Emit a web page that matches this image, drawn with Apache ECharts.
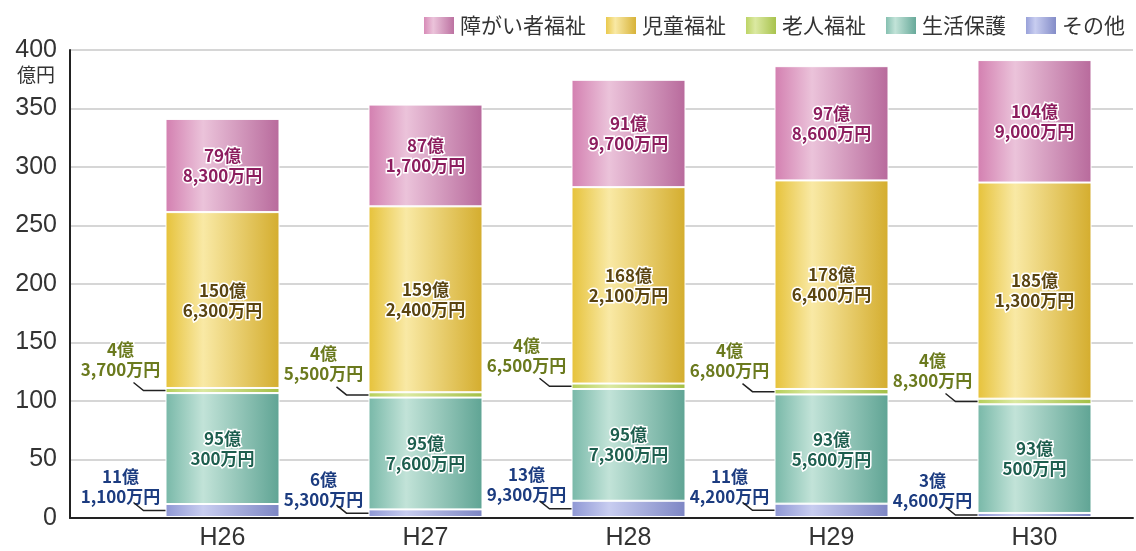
<!DOCTYPE html>
<html>
<head>
<meta charset="utf-8">
<script src="https://cdn.jsdelivr.net/npm/echarts@6/dist/echarts.min.js"></script>
<style>
  html, body { margin: 0; padding: 0; background: #fff; }
  #chart { width: 1136px; height: 551px; }
</style>
</head>
<body>
<div id="chart"></div>
<script>
// 単位：億円
const years = ["H26", "H27", "H28", "H29", "H30"];
const shogai = [79.83, 87.17, 91.97, 97.86, 104.90];   // 障がい者福祉
const jido = [150.63, 159.24, 168.21, 178.64, 185.13]; // 児童福祉
const rojin = [4.37, 4.55, 4.65, 4.68, 4.83];          // 老人福祉
const seikatsu = [95.03, 95.76, 95.73, 93.56, 93.05];  // 生活保護
const sonota = [11.11, 6.53, 13.93, 11.42, 3.46];      // その他
const yMax = 400;
const yStep = 50;

const BAR_W = 114;
const jp = '"Noto Sans CJK JP", sans-serif';

function yen(v) {
  const oku = Math.floor(v + 1e-9);
  const man = Math.round((v - oku) * 10000);
  const manText = man >= 1000
    ? Math.floor(man / 1000) + "," + String(man % 1000).padStart(3, "0")
    : String(man);
  return oku + "億\n" + manText + "万円";
}

function grad(a, b, c) {
  return new echarts.graphic.LinearGradient(0, 0, 1, 0, [
    { offset: 0, color: a },
    { offset: 0.33, color: b },
    { offset: 1, color: c }
  ]);
}

function labelInside(color) {
  return {
    show: true,
    position: "inside",
    formatter: (p) => yen(p.value),
    color: color,
    fontFamily: jp,
    fontSize: 17,
    fontWeight: "bold",
    lineHeight: 20,
    textBorderColor: "#fff",
    textBorderWidth: 3
  };
}

function labelOutside(color, dy) {
  return {
    show: true,
    position: "left",
    distance: 45,
    align: "center",
    offset: [0, dy],
    formatter: (p) => yen(p.value),
    color: color,
    fontFamily: jp,
    fontSize: 17,
    fontWeight: "bold",
    lineHeight: 20,
    textBorderColor: "#fff",
    textBorderWidth: 3
  };
}

function bar(name, data, colors, label) {
  return {
    type: "bar",
    name: name,
    stack: "total",
    xAxisIndex: 1,
    yAxisIndex: 1,
    barWidth: BAR_W,
    data: data,
    itemStyle: { color: grad(colors[0], colors[1], colors[2]), borderColor: "#fff", borderWidth: 1 },
    label: label
  };
}

// leader lines for the small segments
const leaderData = years.map((_, i) => [i, sonota[i] / 2])
  .concat(years.map((_, i) => [i, sonota[i] + seikatsu[i] + rojin[i] / 2]));

const chart = echarts.init(document.getElementById("chart"));
const option = {
  animation: false,
  legend: {
    data: ["障がい者福祉", "児童福祉", "老人福祉", "生活保護", "その他"],
    right: 6,
    top: 10,
    icon: "rect",
    itemWidth: 32,
    itemHeight: 19,
    itemGap: 18,
    textStyle: { color: "#333", fontSize: 21, fontFamily: jp }
  },
  grid: [
    { left: 70, right: 3, top: 50, bottom: 33 },
    { left: 121, width: 1041, top: 50, bottom: 33 }
  ],
  xAxis: [
    {
      gridIndex: 0,
      type: "category",
      data: years,
      axisLine: { lineStyle: { color: "#222", width: 2 } },
      axisTick: { show: false },
      axisLabel: { show: false }
    },
    {
      gridIndex: 1,
      type: "category",
      data: years,
      axisLine: { show: false },
      axisTick: { show: false },
      axisLabel: { color: "#333", fontSize: 25, fontFamily: '"Liberation Sans", Arial, sans-serif', margin: 9 }
    }
  ],
  yAxis: [
    {
      gridIndex: 0,
      type: "value",
      min: 0,
      max: yMax,
      interval: yStep,
      axisLine: { show: true, lineStyle: { color: "#222", width: 2 } },
      axisTick: { show: false },
      axisLabel: { color: "#333", fontSize: 25, fontFamily: '"Liberation Sans", Arial, sans-serif', margin: 13 },
      splitLine: { lineStyle: { color: "#c9c9c9", width: 1.5 } }
    },
    { gridIndex: 1, type: "value", min: 0, max: yMax, show: false }
  ],
  graphic: [
    { type: "text", left: 17, top: 65, style: { text: "億円", fontSize: 19, fontFamily: jp, fill: "#333" } }
  ],
  series: [
    bar("その他", sonota, ["#8e97d4", "#c8cdf0", "#7d86c4"], labelOutside("#1c3c80", -24)),
    bar("生活保護", seikatsu, ["#78b8a8", "#c2e3d8", "#5fa494"], labelInside("#1d5e4e")),
    bar("老人福祉", rojin, ["#b6cf58", "#dbe9a2", "#a3bf45"], labelOutside("#6b7a1e", -31)),
    bar("児童福祉", jido, ["#e6c23a", "#f9e9a5", "#d4ad2e"], labelInside("#5a4410")),
    bar("障がい者福祉", shogai, ["#d37fb0", "#ebc3da", "#b86a9c"], labelInside("#8c1d5e")),
    {
      type: "custom",
      xAxisIndex: 1,
      yAxisIndex: 1,
      data: leaderData,
      silent: true,
      z: 5,
      renderItem: function (params, api) {
        const p = api.coord([api.value(0), api.value(1)]);
        const x0 = p[0] - BAR_W / 2;
        return {
          type: "polyline",
          shape: { points: [[x0, p[1]], [x0 - 22, p[1]], [x0 - 32, p[1] - 8]] },
          style: { stroke: "#222", lineWidth: 1.5, fill: null }
        };
      }
    }
  ]
};
chart.setOption(option);
window.addEventListener("resize", () => {
  chart && chart.resize();
});
</script>
</body>
</html>
